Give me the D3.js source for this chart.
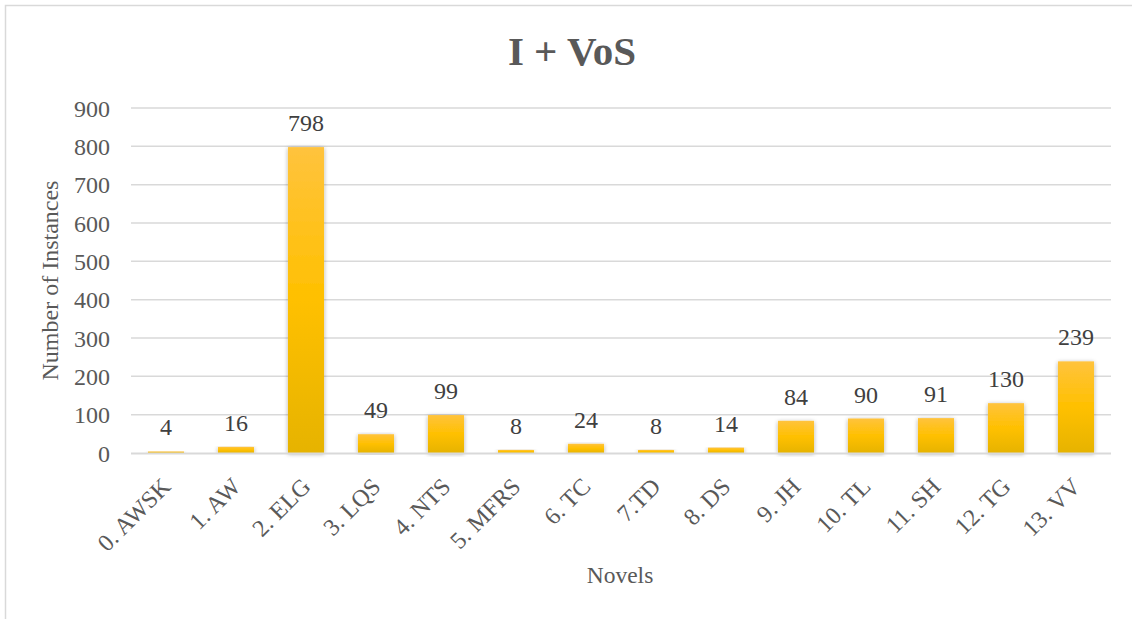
<!DOCTYPE html>
<html>
<head>
<meta charset="utf-8">
<script src="https://cdn.jsdelivr.net/npm/d3@7"></script>
<style>
  html, body { margin: 0; padding: 0; background: #fff; }
  svg { display: block; }
  svg text { font-family: "Liberation Serif", "Times New Roman", serif; }
</style>
</head>
<body>
<svg id="chart" width="1132" height="619"></svg>
<script>
// Novels and the number of I + VoS instances found in each
const categories = ["0. AWSK", "1. AW", "2. ELG", "3. LQS", "4. NTS", "5. MFRS", "6. TC",
                    "7.TD", "8. DS", "9. JH", "10. TL", "11. SH", "12. TG", "13. VV"];
const values = [4, 16, 798, 49, 99, 8, 24, 8, 14, 84, 90, 91, 130, 239];
const yTicks = [0, 100, 200, 300, 400, 500, 600, 700, 800, 900];

const svg = d3.select("#chart");
const W = 1132, H = 619;
const margin = { left: 131, right: W - 1111, top: 108, bottom: H - 453 };
const textColor = "#595959";
const serif = '"Liberation Serif", "Times New Roman", serif';

// outer frame of the chart area
svg.append("rect")
  .attr("x", 5.5).attr("y", 5.5)
  .attr("width", W + 20).attr("height", H + 20)
  .attr("fill", "#fff").attr("stroke", "#d9d9d9").attr("stroke-width", 1.5);

const defs = svg.append("defs");
const grad = defs.append("linearGradient")
  .attr("id", "barFill").attr("x1", 0).attr("y1", 0).attr("x2", 0).attr("y2", 1);
grad.append("stop").attr("offset", "0%").attr("stop-color", "#ffc33d");
grad.append("stop").attr("offset", "50%").attr("stop-color", "#ffc000");
grad.append("stop").attr("offset", "100%").attr("stop-color", "#e6b300");

const shadow = defs.append("filter").attr("id", "barShadow")
  .attr("x", "-30%").attr("y", "-10%").attr("width", "160%").attr("height", "120%");
shadow.append("feDropShadow")
  .attr("dx", 0).attr("dy", 1).attr("stdDeviation", 2)
  .attr("flood-color", "#000").attr("flood-opacity", 0.35);

const x = d3.scaleBand()
  .domain(categories)
  .range([margin.left, W - margin.right])
  .paddingInner(0.485).paddingOuter(0.2425);

const y = d3.scaleLinear()
  .domain([0, 900])
  .range([H - margin.bottom, margin.top]);

// horizontal gridlines
svg.append("g")
  .selectAll("line")
  .data(yTicks.filter(d => d > 0))
  .join("line")
  .attr("x1", margin.left).attr("x2", W - margin.right)
  .attr("y1", d => y(d)).attr("y2", d => y(d))
  .attr("stroke", "#d9d9d9").attr("stroke-width", 1.5);

// y axis labels
const yAxis = d3.axisLeft(y).tickValues(yTicks).tickSize(0).tickPadding(0);
const gy = svg.append("g").attr("transform", `translate(110,0)`).call(yAxis);
gy.attr("font-family", serif);
gy.select(".domain").remove();
gy.selectAll("text")
  .attr("fill", textColor)
  .style("font-family", serif)
  .style("font-size", "24px")
  .attr("dy", "0.34em");

// bars
svg.append("g")
  .selectAll("rect")
  .data(values)
  .join("rect")
  .attr("x", (d, i) => x(categories[i]))
  .attr("width", x.bandwidth())
  .attr("y", d => y(d))
  .attr("height", d => y(0) - y(d))
  .attr("fill", "url(#barFill)")
  .attr("filter", "url(#barShadow)");

// category axis line
svg.append("line")
  .attr("x1", margin.left).attr("x2", W - margin.right)
  .attr("y1", y(0) + 0.5).attr("y2", y(0) + 0.5)
  .attr("stroke", "#d9d9d9").attr("stroke-width", 2);

// value labels
svg.append("g")
  .selectAll("text")
  .data(values)
  .join("text")
  .attr("x", (d, i) => x(categories[i]) + x.bandwidth() / 2)
  .attr("y", d => y(d) - 16)
  .attr("text-anchor", "middle")
  .attr("fill", "#404040")
  .style("font-family", serif)
  .style("font-size", "24px")
  .text(d => d);

// x axis labels, rotated
const xAxis = d3.axisBottom(x).tickSize(0).tickPadding(0);
const gx = svg.append("g").attr("transform", `translate(0,${y(0)})`).call(xAxis);
gx.attr("font-family", serif);
gx.select(".domain").remove();
gx.selectAll("text")
  .attr("fill", textColor)
  .style("font-family", serif)
  .style("font-size", "24px")
  .attr("text-anchor", "end")
  .attr("dy", null)
  .attr("y", 0)
  .attr("transform", "translate(6,35) rotate(-45)");

// title
svg.append("text")
  .attr("x", 572).attr("y", 65)
  .attr("text-anchor", "middle")
  .attr("fill", textColor)
  .style("font-family", serif)
  .style("font-size", "41px")
  .style("font-weight", "bold")
  .text("I + VoS");

// axis titles
svg.append("text")
  .attr("transform", `translate(58,${(y(0) + y(900)) / 2}) rotate(-90)`)
  .attr("text-anchor", "middle")
  .attr("fill", textColor)
  .style("font-family", serif)
  .style("font-size", "24px")
  .text("Number of Instances");

svg.append("text")
  .attr("x", 620).attr("y", 583)
  .attr("text-anchor", "middle")
  .attr("fill", textColor)
  .style("font-family", serif)
  .style("font-size", "23.5px")
  .text("Novels");
</script>
</body>
</html>
